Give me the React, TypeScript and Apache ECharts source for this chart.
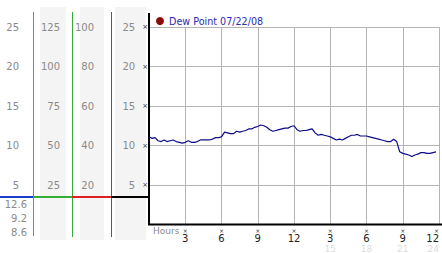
import React, { useEffect, useRef } from "react";
import * as echarts from "echarts";

const SERIES_NAME = "Dew Point 07/22/08";

const hours = [
  0, 0.25, 0.5, 0.75, 1, 1.25, 1.5, 1.75, 2, 2.25, 2.5, 2.75,
  3, 3.25, 3.5, 3.75, 4, 4.25, 4.5, 4.75, 5, 5.25, 5.5, 5.75,
  6, 6.25, 6.5, 6.75, 7, 7.25, 7.5, 7.75, 8, 8.25, 8.5, 8.75,
  9, 9.25, 9.5, 9.75, 10, 10.25, 10.5, 10.75, 11, 11.25, 11.5, 11.75,
  12, 12.25, 12.5, 12.75, 13, 13.25, 13.5, 13.75, 14, 14.25, 14.5, 14.75,
  15, 15.25, 15.5, 15.75, 16, 16.25, 16.5, 16.75, 17, 17.25, 17.5, 17.75,
  18, 18.25, 18.5, 18.75, 19, 19.25, 19.5, 19.75, 20, 20.25, 20.5, 20.75,
  21, 21.25, 21.5, 21.75, 22, 22.25, 22.5, 22.75, 23, 23.25, 23.5, 23.75,
];

const dewPoint = [
  11.1, 10.9, 11.0, 10.6, 10.5, 10.7, 10.5, 10.6, 10.7, 10.5, 10.4, 10.3,
  10.4, 10.6, 10.4, 10.4, 10.5, 10.7, 10.7, 10.7, 10.7, 10.8, 11.0, 11.0,
  11.1, 11.7, 11.6, 11.5, 11.5, 11.8, 11.7, 11.8, 11.9, 12.1, 12.1, 12.3,
  12.4, 12.6, 12.5, 12.3, 12.0, 11.8, 11.9, 12.0, 12.1, 12.2, 12.2, 12.4,
  12.5, 12.0, 11.8, 11.9, 11.9, 12.0, 12.1, 11.6, 11.3, 11.4, 11.3, 11.2,
  11.1, 10.9, 10.7, 10.8, 10.7, 10.9, 11.1, 11.3, 11.3, 11.4, 11.2, 11.2,
  11.2, 11.1, 11.0, 10.9, 10.8, 10.7, 10.6, 10.5, 10.5, 10.8, 10.5, 9.2,
  9.0, 8.9, 8.8, 8.6, 8.8, 8.9, 9.1, 9.1, 9.0, 9.0, 9.1, 9.2,
];

// left-hand scale columns
const scaleMain = { max: 25, interval: 5 };
const scaleB = { max: 125, interval: 25 };
const scaleC = { max: 100, interval: 20 };
const hourAxis = { min: 0, max: 24, interval: 3 };

const FONT = "DejaVu Sans";
const GRAY = "#8a8a8a";

export default function App() {
  const ref = useRef<HTMLDivElement>(null);
  useEffect(() => {
    if (!ref.current) return;
    const chart = echarts.init(ref.current, undefined, { renderer: "svg" });
    const maxV = Math.max(...dewPoint);
    const minV = Math.min(...dewPoint);
    const lastV = dewPoint[dewPoint.length - 1];

    const sideAxis = (s: { max: number; interval: number }, offset: number) => ({
      type: "value",
      position: "left",
      min: 0,
      max: s.max,
      interval: s.interval,
      offset,
      axisLine: { show: false },
      axisTick: { show: false },
      splitLine: { show: false },
      axisLabel: {
        margin: 0,
        color: GRAY,
        fontFamily: FONT,
        fontSize: 10,
        formatter: (v: number) => (v === 0 ? "" : String(v)),
      },
    });

    const gline = (x1: number, y1: number, x2: number, y2: number, color: string, w: number) => ({
      type: "line",
      shape: { x1, y1, x2, y2 },
      style: { stroke: color, lineWidth: w },
      z: 100,
    });
    const grect = (x: number, y: number, w: number, h: number) => ({
      type: "rect",
      shape: { x, y, width: w, height: h },
      style: { fill: "#f4f4f4" },
      z: -10,
    });
    const gtext = (x: number, y: number, text: string, align = "right", size = 10) => ({
      type: "text",
      x,
      y,
      style: {
        text,
        fill: GRAY,
        font: `${size}px '${FONT}'`,
        align,
        verticalAlign: "middle",
      },
      z: 100,
    });

    chart.setOption({
      animation: false,
      grid: { left: 149, right: 3, top: 27, bottom: 28 },
      legend: {
        left: 156,
        top: 16,
        padding: 0,
        icon: "circle",
        itemWidth: 8,
        itemHeight: 8,
        data: [{ name: SERIES_NAME, itemStyle: { color: "#8b0a0a" } }],
        textStyle: { color: "#2b2bb0", fontFamily: FONT, fontSize: 9.6 },
      },
      xAxis: {
        type: "value",
        min: hourAxis.min,
        max: hourAxis.max,
        interval: hourAxis.interval,
        axisLine: { show: false },
        axisTick: { show: false },
        splitLine: { show: true, lineStyle: { color: "#b4b4b4", width: 1 } },
        axisLabel: {
          margin: 3,
          alignMaxLabel: "right",
          formatter: (v: number) => {
            if (v === 0) return "";
            const h12 = v % 12 === 0 ? 12 : v % 12;
            return v > 12 ? `{t|×}\n{n|${h12}}\n{f|${v}}` : `{t|×}\n{n|${h12}}`;
          },
          rich: {
            t: { fontSize: 6, lineHeight: 6, color: "#333", fontFamily: FONT },
            n: { fontSize: 10, lineHeight: 10, color: "#222", fontFamily: FONT },
            f: { fontSize: 9, lineHeight: 10, color: "#dcdcdc", fontFamily: FONT },
          },
        },
      },
      yAxis: [
        {
          type: "value",
          position: "left",
          min: 0,
          max: scaleMain.max,
          interval: scaleMain.interval,
          axisLine: { show: false },
          axisTick: { show: false },
          splitLine: { show: true, lineStyle: { color: "#b4b4b4", width: 1 } },
          axisLabel: {
            margin: 1,
            formatter: (v: number) => (v === 0 ? "" : `{n|${v}}{t|×}`),
            rich: {
              n: { color: GRAY, fontSize: 10, fontFamily: FONT, padding: [0, 7, 0, 0] },
              t: { color: "#333", fontSize: 7, fontFamily: FONT },
            },
          },
        },
        sideAxis(scaleC, 55),
        sideAxis(scaleB, 89),
        sideAxis(scaleMain, 130),
      ],
      series: [
        {
          name: SERIES_NAME,
          type: "line",
          showSymbol: false,
          symbol: "none",
          lineStyle: { color: "#0c0c86", width: 1.2 },
          itemStyle: { color: "#8b0a0a" },
          data: hours.map((h, i) => [h, dewPoint[i]]),
        },
      ],
      graphic: [
        grect(40, 7, 26, 233),
        grect(80, 7, 24, 233),
        grect(115, 7, 31, 233),
        gline(33.5, 12, 33.5, 236, "#3a9ac8", 1),
        gline(72.5, 12, 72.5, 237, "#3aa83a", 1),
        gline(111.5, 12, 111.5, 237, "#b83030", 1),
        gline(0, 197, 33, 197, "#1a3ccc", 2),
        gline(33, 197, 72, 197, "#33b033", 2),
        gline(72, 197, 111, 197, "#e02020", 2),
        gline(111, 197, 149, 197, "#000", 2),
        gline(149, 13, 149, 225, "#000", 2),
        gline(148, 224.5, 442, 224.5, "#000", 2),
        gtext(27, 204, maxV.toFixed(1)),
        gtext(27, 218, lastV.toFixed(1)),
        gtext(27, 232, minV.toFixed(1)),
        gtext(153, 231, "Hours", "left", 9),
      ],
    });
    return () => chart.dispose();
  }, []);
  return (
    <div
      ref={ref}
      style={{ position: "fixed", left: 0, top: 0, width: 442, height: 253, background: "#fff" }}
    />
  );
}
